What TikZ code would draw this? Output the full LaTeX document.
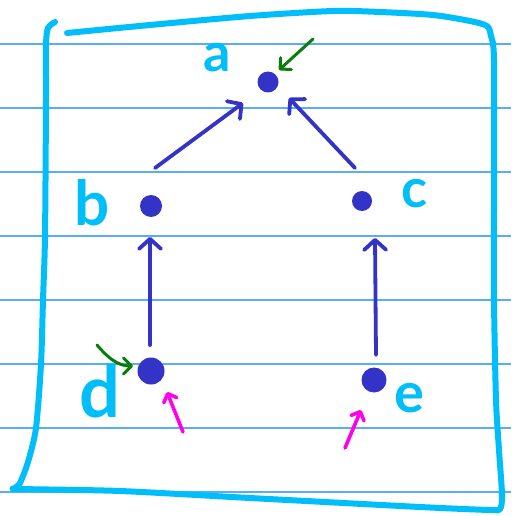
\documentclass[tikz,border=0pt]{standalone}
\usepackage{fontspec}
\setsansfont{Lato}
\usetikzlibrary{arrows.meta}
\definecolor{framecol}{RGB}{0,190,250}
\definecolor{rulecol}{RGB}{90,170,255}
\definecolor{dotcol}{RGB}{51,51,200}
\definecolor{penGreen}{RGB}{10,125,10}
\definecolor{penPink}{RGB}{255,0,235}
\tikzset{
  ruling/.style={draw=rulecol, line width=1.4pt},
  frame/.style={draw=framecol, line width=6pt, line cap=round, line join=round},
  dot/.style={circle, fill=dotcol, inner sep=0pt, minimum size=#1},
  letter/.style={text=framecol, inner sep=0pt, font=\sffamily\bfseries\fontsize{#1}{#1}\selectfont},
  edgearrow/.style={draw=dotcol, line width=3.8pt, line cap=round,
    -{Straight Barb[length=10pt,width=22pt,line cap=round,line join=round]}},
  greenarrow/.style={draw=penGreen, line width=3pt, line cap=round,
    -{Straight Barb[length=8pt,width=16pt,line cap=round,line join=round]}},
  pinkarrow/.style={draw=penPink, line width=3.6pt, line cap=round,
    -{Straight Barb[length=7pt,width=14pt,line cap=round,line join=round]}}
}
\begin{document}
\begin{tikzpicture}[x=1pt,y=-1pt]
\useasboundingbox (0,0) rectangle (511,516);
\fill[white] (0,0) rectangle (511,516);

% ruled paper
\foreach \yy in {44,108,172,236,300,364,428,492}
  \draw[ruling] (0,\yy) -- (511,\yy);

% hand-drawn frame
\draw[frame] plot[smooth, tension=0.45] coordinates {
  (67,33) (150,25) (250,16) (333,11) (380,12) (433,15) (470,21) (487,26)
  (491,36) (494,60) (494,200) (494,300) (496,400) (499,450) (502,495) (500,509)
  (490,510) (420,507) (250,498) (120,491) (20,489) (15,488) (20,483)
  (28,462) (36,428) (41,364) (43,300) (45,236) (46,100) (46,45) (48,28) (55,22)};

% vertices
\node[dot=21pt] (a) at (268,82) {};
\node[dot=22pt] (b) at (151,206) {};
\node[dot=20pt] (c) at (362,201) {};
\node[dot=27pt] (d) at (151,371) {};
\node[dot=25pt] (e) at (374,380) {};

% vertex names
\node[letter=54] (la) at (217,58) {a};
\node[letter=62] (lb) at (92,203) {b};
\node[letter=54] (lc) at (415,194) {c};
\node[letter=72] (ld) at (100,391) {d};
\node[letter=56] (le) at (409,398) {e};

% arrow end points
\coordinate (ba1) at (155,168);
\coordinate (ba2) at (243,103);
\coordinate (ca1) at (355,168);
\coordinate (ca2) at (289,98);
\coordinate (db1) at (150,345);
\coordinate (db2) at (150,237);
\coordinate (ec1) at (376,355);
\coordinate (ec2) at (375,238);

\draw[edgearrow] (ba1) -- (ba2);
\draw[edgearrow] (ca1) -- (ca2);
\draw[edgearrow] (db1) -- (db2);
\draw[edgearrow] (ec1) -- (ec2);

% green pointers
\coordinate (ga1) at (313,39);
\coordinate (ga2) at (279,70);
\draw[greenarrow] (ga1) -- (ga2);
\coordinate (gd1) at (97,345);
\coordinate (gd2) at (133,366);
\draw[greenarrow] (gd1) .. controls (108,358) and (118,366) .. (gd2);

% pink pointers
\coordinate (pd1) at (183,432);
\coordinate (pd2) at (167,392);
\draw[pinkarrow] (pd1) -- (pd2);
\coordinate (pe1) at (345,448);
\coordinate (pe2) at (361,410);
\draw[pinkarrow] (pe1) -- (pe2);
\end{tikzpicture}
\end{document}
